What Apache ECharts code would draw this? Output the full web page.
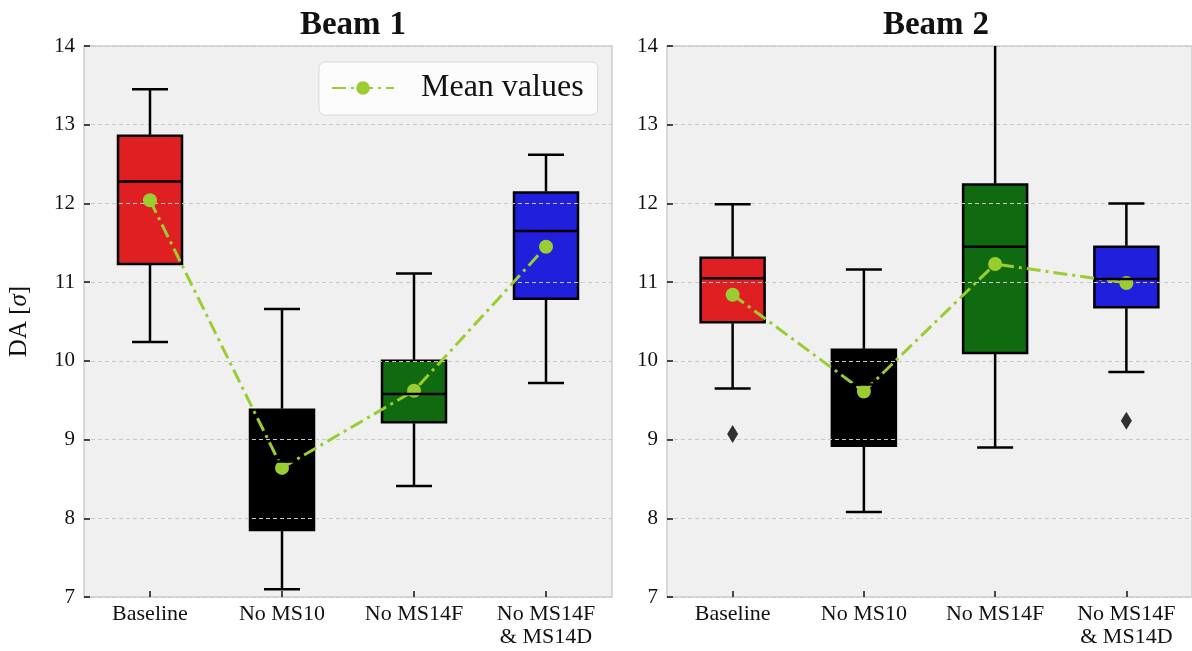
<!DOCTYPE html>
<html>
<head>
<meta charset="utf-8">
<title>Dynamic aperture per configuration</title>
<script src="https://cdn.jsdelivr.net/npm/echarts@6/dist/echarts.min.js"></script>
<style>
  html, body { margin: 0; padding: 0; background: #ffffff; }
  #chart { width: 1192px; height: 651px; }
</style>
</head>
<body>
<div id="chart"></div>
<script>
// Configurations compared on the horizontal axis
const categories = ['Baseline', 'No MS10', 'No MS14F', 'No MS14F\n& MS14D'];
const yTicks = [7, 8, 9, 10, 11, 12, 13, 14];

// Beam 1: five-number summaries and means of DA [sigma]
const beam1Low    = [10.24, 7.10, 8.41, 9.72];
const beam1Q1     = [11.23, 7.85, 9.22, 10.79];
const beam1Median = [12.28, 8.72, 9.58, 11.65];
const beam1Q3     = [12.86, 9.38, 10.00, 12.14];
const beam1High   = [13.45, 10.66, 11.11, 12.62];
const beam1Mean   = [12.04, 8.64, 9.62, 11.45];
const beam1Outliers = [];

// Beam 2: five-number summaries and means of DA [sigma]
const beam2Low    = [9.65, 8.08, 8.90, 9.86];
const beam2Q1     = [10.49, 8.92, 10.10, 10.68];
const beam2Median = [11.05, 9.70, 11.45, 11.04];
const beam2Q3     = [11.31, 10.14, 12.24, 11.45];
const beam2High   = [11.99, 11.16, 14.40, 12.00];
const beam2Mean   = [10.84, 9.61, 11.23, 10.99];
const beam2Outliers = [[0, 9.07], [3, 9.24]];

const boxColors = ['#e01f22', '#000000', '#106b10', '#1f1fdc'];
const meanColor = '#9acd32';
const serif = '"Liberation Serif", "DejaVu Serif", serif';

function boxRows(low, q1, med, q3, high) {
  return low.map((v, i) => [i, v, q1[i], med[i], q3[i], high[i]]);
}

const BOX_HALF = 32;
const CAP_HALF = 18;
const EDGE = { stroke: '#000000', lineWidth: 2.5 };

// Filled box bodies (under the grid lines)
function renderBox(params, api) {
  const idx = api.value(0);
  const q1 = api.coord([idx, api.value(2)]);
  const q3 = api.coord([idx, api.value(4)]);
  const x = q1[0];
  return {
    type: 'rect',
    shape: { x: x - BOX_HALF, y: q3[1], width: 2 * BOX_HALF, height: q1[1] - q3[1] },
    style: { fill: boxColors[idx], stroke: '#000000', lineWidth: 2.5 }
  };
}

// Whiskers, caps and median bars (above the grid lines and mean markers)
function renderWhiskers(params, api) {
  const idx = api.value(0);
  const cs = params.coordSys;
  const low = api.coord([idx, api.value(1)]);
  const q1 = api.coord([idx, api.value(2)]);
  const med = api.coord([idx, api.value(3)]);
  const q3 = api.coord([idx, api.value(4)]);
  const high = api.coord([idx, api.value(5)]);
  const x = low[0];
  const top = cs.y, bottom = cs.y + cs.height;
  const hy = Math.max(high[1], top);
  const ly = Math.min(low[1], bottom);
  const children = [
    { type: 'line', shape: { x1: x, y1: ly, x2: x, y2: q1[1] + 1 }, style: EDGE },
    { type: 'line', shape: { x1: x, y1: q3[1] - 1, x2: x, y2: hy }, style: EDGE },
    { type: 'line', shape: { x1: x - BOX_HALF, y1: med[1], x2: x + BOX_HALF, y2: med[1] }, style: EDGE }
  ];
  if (high[1] >= top) {
    children.push({ type: 'line', shape: { x1: x - CAP_HALF, y1: hy, x2: x + CAP_HALF, y2: hy }, style: EDGE });
  }
  if (low[1] <= bottom) {
    children.push({ type: 'line', shape: { x1: x - CAP_HALF, y1: ly, x2: x + CAP_HALF, y2: ly }, style: EDGE });
  }
  return { type: 'group', children: children };
}

function xAxisFor(gridIndex) {
  return {
    type: 'category', gridIndex: gridIndex, data: categories,
    boundaryGap: true,
    axisLine: { show: false },
    axisTick: { show: true, inside: true, length: 6, alignWithLabel: true,
                lineStyle: { color: '#111111', width: 1.5 } },
    axisLabel: { fontFamily: serif, fontSize: 22, color: '#111111', margin: 6, lineHeight: 23 },
    splitLine: { show: false }
  };
}

function yAxisFor(gridIndex, withName) {
  const ax = {
    type: 'value', gridIndex: gridIndex, min: yTicks[0], max: yTicks[yTicks.length - 1], interval: 1,
    z: 3,
    axisLine: { show: false },
    axisTick: { show: true, inside: true, length: 6, lineStyle: { color: '#111111', width: 1.5 } },
    axisLabel: { fontFamily: serif, fontSize: 21, color: '#111111', margin: 9,
                 formatter: v => (yTicks.indexOf(v) >= 0 ? String(v) : '') },
    splitLine: { show: true, lineStyle: { color: '#c9c9c9', width: 1, type: [4, 3] } }
  };
  if (withName) {
    ax.name = 'DA [{i|σ}]';
    ax.nameLocation = 'middle';
    ax.nameRotate = 90;
    ax.nameGap = 52;
    ax.nameTextStyle = { fontFamily: serif, fontSize: 25, color: '#111111',
                         rich: { i: { fontFamily: serif, fontSize: 25, fontStyle: 'italic', color: '#111111' } } };
  }
  return ax;
}

function panelSeries(gridIndex, low, q1, med, q3, high, mean, outliers) {
  const rows = boxRows(low, q1, med, q3, high);
  return [
    {
      type: 'custom', xAxisIndex: gridIndex, yAxisIndex: gridIndex, z: 2,
      renderItem: renderBox, data: rows, encode: { x: 0, y: [1, 2, 3, 4, 5] }, silent: true
    },
    {
      name: 'Mean values', type: 'line', xAxisIndex: gridIndex, yAxisIndex: gridIndex, z: 4,
      data: mean, symbol: 'circle', symbolSize: 14, showSymbol: true,
      lineStyle: { color: meanColor, width: 3, type: [14, 5, 3, 5] },
      itemStyle: { color: meanColor }
    },
    {
      type: 'custom', xAxisIndex: gridIndex, yAxisIndex: gridIndex, z: 5,
      renderItem: renderWhiskers, data: rows, encode: { x: 0, y: [1, 2, 3, 4, 5] }, silent: true
    },
    {
      type: 'scatter', xAxisIndex: gridIndex, yAxisIndex: gridIndex, z: 5,
      data: outliers, symbol: 'diamond', symbolSize: [11, 18],
      itemStyle: { color: '#000000' }
    }
  ];
}

const chart = echarts.init(document.getElementById('chart'), null, { renderer: 'canvas' });

const titleRich = {
  b: { fontFamily: serif, fontSize: 33, fontWeight: 'bold', color: '#111111' },
  n: { fontFamily: serif, fontSize: 33, fontWeight: 'bold', color: '#111111', padding: [0, 0, 0, 9] }
};

chart.setOption({
  animation: false,
  backgroundColor: '#ffffff',
  title: [
    { text: '{b|Beam}{n|1}', left: 348, top: 4, textAlign: 'center', textStyle: { rich: titleRich } },
    { text: '{b|Beam}{n|2}', left: 931, top: 4, textAlign: 'center', textStyle: { rich: titleRich } }
  ],
  legend: {
    data: ['Mean values'],
    left: 319, top: 62,
    padding: [10, 14, 11, 12],
    itemWidth: 62, itemHeight: 17,
    backgroundColor: 'rgba(252,252,252,0.95)',
    borderColor: '#d9d9d9', borderWidth: 1, borderRadius: 6,
    textStyle: { fontFamily: serif, fontSize: 32, color: '#111111', padding: [3, 0, 0, 22] },
    selectedMode: false
  },
  grid: [
    { left: 84, top: 46, width: 528, height: 551, show: true, backgroundColor: '#f0f0f0',
      borderColor: '#cdcdcd', borderWidth: 1.5, containLabel: false },
    { left: 667, top: 46, width: 528, height: 551, show: true, backgroundColor: '#f0f0f0',
      borderColor: '#cdcdcd', borderWidth: 1.5, containLabel: false }
  ],
  xAxis: [xAxisFor(0), xAxisFor(1)],
  yAxis: [yAxisFor(0, true), yAxisFor(1, false)],
  series: [].concat(
    panelSeries(0, beam1Low, beam1Q1, beam1Median, beam1Q3, beam1High, beam1Mean, beam1Outliers),
    panelSeries(1, beam2Low, beam2Q1, beam2Median, beam2Q3, beam2High, beam2Mean, beam2Outliers)
  )
});
</script>
</body>
</html>
